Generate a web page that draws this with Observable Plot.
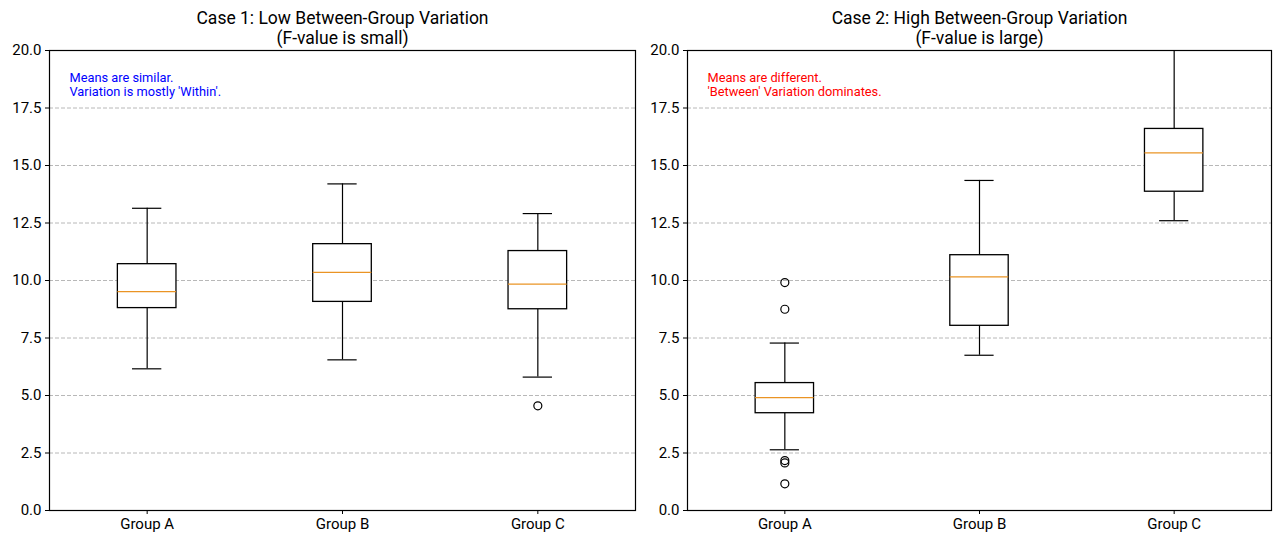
<!DOCTYPE html>
<html>
<head>
<meta charset="utf-8">
<script src="https://cdn.jsdelivr.net/npm/d3@7"></script>
<script src="https://cdn.jsdelivr.net/npm/@observablehq/plot@0.6"></script>
<style>
  html, body { margin: 0; padding: 0; background: white; }
  #wrap { display: flex; width: 1280px; height: 543px; }
</style>
</head>
<body>
<div id="wrap"></div>
<script>
const groups = ["Group A", "Group B", "Group C"];
const yTicks = [0, 2.5, 5, 7.5, 10, 12.5, 15, 17.5, 20];
const gridValues = [2.5, 5, 7.5, 10, 12.5, 15, 17.5];

// Case 1: low between-group variation
const case1Lo  = [6.16, 6.55, 5.80];
const case1Q1  = [8.80, 9.07, 8.75];
const case1Med = [9.52, 10.35, 9.84];
const case1Q3  = [10.71, 11.58, 11.28];
const case1Hi  = [13.14, 14.20, 12.91];
const case1Outliers = [{g: 3, v: 4.55}];

// Case 2: high between-group variation
const case2Lo  = [2.64, 6.75, 12.60];
const case2Q1  = [4.23, 8.03, 13.86];
const case2Med = [4.91, 10.16, 15.55];
const case2Q3  = [5.54, 11.10, 16.59];
const case2Hi  = [7.28, 14.35, 20.80];
const case2Outliers = [
  {g: 1, v: 9.91}, {g: 1, v: 8.75}, {g: 1, v: 2.17}, {g: 1, v: 2.07}, {g: 1, v: 1.16}
];

const titles = [
  "Case 1: Low Between-Group Variation\n(F-value is small)",
  "Case 2: High Between-Group Variation\n(F-value is large)"
];
const notes = [
  "Means are similar.\nVariation is mostly 'Within'.",
  "Means are different.\n'Between' Variation dominates."
];
const noteColors = ["#0000ff", "#ff0000"];

function rows(lo, q1, med, q3, hi) {
  return groups.map((name, i) => ({g: i + 1, lo: lo[i], q1: q1[i], med: med[i], q3: q3[i], hi: hi[i]}));
}

function panel(data, outliers, title, note, noteColor, ml, mr) {
  const hw = 0.15, cw = 0.075;
  return Plot.plot({
    width: 640,
    height: 543,
    marginTop: 50,
    marginBottom: 33,
    marginLeft: ml,
    marginRight: mr,
    style: {fontFamily: "Roboto, 'DejaVu Sans', sans-serif", fontSize: "15px", color: "black", background: "white"},
    x: {domain: [0.5, 3.5], label: null},
    y: {domain: [0, 20], label: null},
    marks: [
      Plot.ruleY(gridValues, {stroke: "#b0b0b0", strokeDasharray: "4,2", strokeWidth: 0.9}),
      // whiskers
      Plot.ruleX(data, {x: "g", y1: "q3", y2: "hi", stroke: "black", strokeWidth: 1.2, clip: "frame"}),
      Plot.ruleX(data, {x: "g", y1: "lo", y2: "q1", stroke: "black", strokeWidth: 1.2, clip: "frame"}),
      // caps
      Plot.ruleY(data, {y: "hi", x1: d => d.g - cw, x2: d => d.g + cw, stroke: "black", strokeWidth: 1.2, clip: "frame"}),
      Plot.ruleY(data, {y: "lo", x1: d => d.g - cw, x2: d => d.g + cw, stroke: "black", strokeWidth: 1.2, clip: "frame"}),
      // boxes
      Plot.rect(data, {x1: d => d.g - hw, x2: d => d.g + hw, y1: "q1", y2: "q3", fill: "white", stroke: "black", strokeWidth: 1.3}),
      // medians
      Plot.ruleY(data, {y: "med", x1: d => d.g - hw, x2: d => d.g + hw, stroke: "#ea9424", strokeWidth: 1.3}),
      // outliers
      Plot.dot(outliers, {x: "g", y: "v", r: 4, stroke: "black", strokeWidth: 1.2, fill: "none"}),
      Plot.frame({stroke: "black", strokeWidth: 1.2}),
      Plot.axisY({ticks: yTicks, tickFormat: d => d.toFixed(1), tickSize: 4, tickPadding: 4, fontSize: 15, label: null}),
      Plot.axisX({ticks: [1, 2, 3], tickFormat: i => groups[i - 1], tickSize: 4, tickPadding: 4, fontSize: 15, label: null}),
      Plot.text([title], {text: d => d, frameAnchor: "top", lineAnchor: "bottom", dy: -7, fontSize: 17.5, lineHeight: 1.1, fill: "black"}),
      Plot.text([note], {text: d => d, frameAnchor: "top-left", textAnchor: "start", lineAnchor: "top", dx: 20, dy: 21, fontSize: 12.8, lineHeight: 1.1, fill: noteColor})
    ]
  });
}

const wrap = document.getElementById("wrap");
wrap.appendChild(panel(rows(case1Lo, case1Q1, case1Med, case1Q3, case1Hi), case1Outliers, titles[0], notes[0], noteColors[0], 49, 5));
wrap.appendChild(panel(rows(case2Lo, case2Q1, case2Med, case2Q3, case2Hi), case2Outliers, titles[1], notes[1], noteColors[1], 47, 9));
</script>
</body>
</html>
